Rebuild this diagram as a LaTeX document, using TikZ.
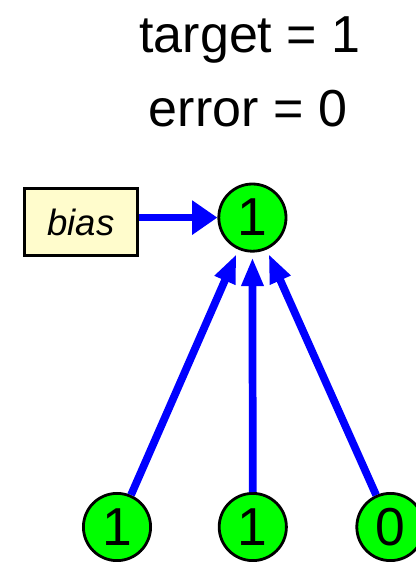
\documentclass[tikz,border=0pt]{standalone}
\usepackage{fontspec}
\setmainfont{Liberation Sans}
\usetikzlibrary{arrows.meta}

\begin{document}
\begin{tikzpicture}[>={Triangle[length=0.72cm, width=0.52cm]},
    font=\fontsize{37}{40}\selectfont,
    neuron/.style={circle, draw=black, line width=2pt, fill=green, minimum size=1.68cm, inner sep=0pt, font=\fontsize{38}{40}\selectfont},
    biasbox/.style={draw=black, line width=2pt, fill=yellow!20, minimum width=2.82cm, minimum height=1.68cm, font=\fontsize{26}{28}\selectfont\itshape},
    wire/.style={->, draw=blue, line width=5.5pt, shorten >=0.12cm}]
    \useasboundingbox (0,0) rectangle (10.4,-14.05);
    \node (target) at (6.25,-1.0) {target = 1};
    \node (error)  at (6.2,-2.72) {error = 0};
    \node[neuron]  (OUT) at (6.31,-5.44) {1};
    \node[biasbox] (BIAS) at (2.025,-5.55) {bias};
    \node[neuron]  (IN1) at (2.925,-13.175) {1};
    \node[neuron]  (IN2) at (6.32,-13.175) {1};
    \node[neuron]  (IN3) at (9.76,-13.175) {0};
    \draw[wire, -{Triangle[length=0.63cm, width=0.82cm]}, shorten >=0pt] (BIAS.east |- OUT) -- (OUT);
    \draw[wire] (IN1) -- (OUT);
    \draw[wire] (IN2) -- (OUT);
    \draw[wire] (IN3) -- (OUT);
\end{tikzpicture}
\end{document}
